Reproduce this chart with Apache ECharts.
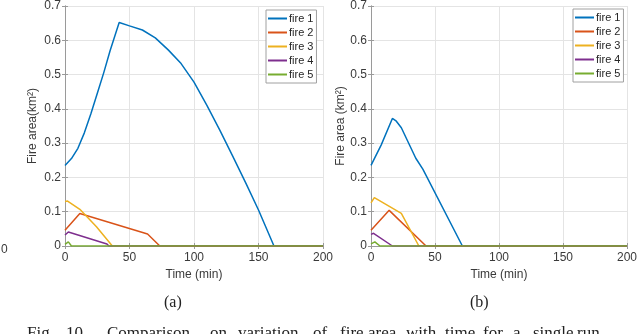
<!DOCTYPE html>
<html><head><meta charset="utf-8">
<script src="https://cdn.jsdelivr.net/npm/echarts@6/dist/echarts.min.js"></script>
<style>html,body{margin:0;padding:0;background:#fff}#c{width:640px;height:334px}</style>
</head><body><div id="c"></div>
<script>
var seriesNames = ['fire 1','fire 2','fire 3','fire 4','fire 5'];
var colors = ['#0072BD','#D95319','#EDB120','#7E2F8E','#77AC30'];
var xTicks = [0, 50, 100, 150, 200];
var yTicks = [0, 0.1, 0.2, 0.3, 0.4, 0.5, 0.6, 0.7];

// (a)
var a1_t = [0, 5, 10, 15, 20, 25, 30, 35, 42, 50, 60, 70, 80, 90, 100, 110, 120, 130, 140, 150, 162, 200];
var a1_v = [0.235, 0.255, 0.285, 0.33, 0.385, 0.445, 0.505, 0.57, 0.652, 0.642, 0.63, 0.607, 0.572, 0.532, 0.478, 0.41, 0.338, 0.262, 0.185, 0.105, 0, 0];
var a2_t = [0, 11.5, 64, 73.5, 200];
var a2_v = [0.046, 0.095, 0.035, 0, 0];
var a3_t = [0, 2, 11.5, 24.4, 36.7, 200];
var a3_v = [0.13, 0.131, 0.107, 0.056, 0, 0];
var a4_t = [0, 2.6, 32.5, 34, 200];
var a4_v = [0.032, 0.041, 0.006, 0, 0];
var a5_t = [0, 2.6, 5, 200];
var a5_v = [0.005, 0.012, 0, 0];

// (b)
var b1_t = [0, 8, 16.7, 19.8, 23.7, 35, 40.5, 71.4, 200];
var b1_v = [0.235, 0.295, 0.372, 0.364, 0.345, 0.256, 0.224, 0, 0];
var b2_t = [0, 14.2, 43, 200];
var b2_v = [0.046, 0.104, 0, 0];
var b3_t = [0, 2.6, 23.7, 37.4, 200];
var b3_v = [0.126, 0.141, 0.095, 0, 0];
var b4_t = [0, 2, 16.7, 200];
var b4_v = [0.034, 0.037, 0, 0];
var b5_t = [0, 3, 7, 200];
var b5_v = [0.006, 0.012, 0, 0];

function zip(t, v) { return t.map(function (x, i) { return [x, v[i]]; }); }
var aData = [zip(a1_t,a1_v), zip(a2_t,a2_v), zip(a3_t,a3_v), zip(a4_t,a4_v), zip(a5_t,a5_v)];
var bData = [zip(b1_t,b1_v), zip(b2_t,b2_v), zip(b3_t,b3_v), zip(b4_t,b4_v), zip(b5_t,b5_v)];

var boxColor = '#9a9a9a';
var labColor = '#3a3a3a';
var font = 'Liberation Sans';

function xAx(gi, main) {
  return {
    type: 'value', gridIndex: gi, min: xTicks[0], max: xTicks[xTicks.length-1], interval: 50,
    position: main ? 'bottom' : 'top',
    name: main ? 'Time (min)' : '', nameLocation: 'middle', nameGap: 23,
    nameTextStyle: { color: labColor, fontFamily: font, fontSize: 12 },
    axisLine: { show: true, lineStyle: { color: boxColor, width: 1 } },
    axisTick: { show: true, inside: true, length: 3, lineStyle: { color: boxColor } },
    axisLabel: { show: main, color: labColor, fontFamily: font, fontSize: 12, margin: 6 },
    splitLine: { show: main, lineStyle: { color: '#e4e4e4', width: 1 } }
  };
}
function yAx(gi, main, name, gap) {
  return {
    type: 'value', gridIndex: gi, min: 0, max: 0.7, interval: 0.1,
    position: main ? 'left' : 'right',
    name: main ? name : '', nameLocation: 'middle', nameGap: gap,
    nameTextStyle: { color: labColor, fontFamily: font, fontSize: 12 },
    axisLine: { show: true, lineStyle: { color: boxColor, width: 1 } },
    axisTick: { show: true, inside: true, length: 3, lineStyle: { color: boxColor } },
    axisLabel: { show: main, color: labColor, fontFamily: font, fontSize: 12, margin: 4,
      formatter: function (v) { return (Math.round(v*10)/10).toString(); } },
    splitLine: { show: main, lineStyle: { color: '#e4e4e4', width: 1 } }
  };
}

var series = [];
[aData, bData].forEach(function (dset, gi) {
  dset.forEach(function (d, i) {
    series.push({
      name: seriesNames[i], type: 'line', xAxisIndex: gi*2, yAxisIndex: gi*2,
      data: d, showSymbol: false, symbol: 'none', smooth: false,
      lineStyle: { color: colors[i], width: 1.5 }, itemStyle: { color: colors[i] },
      animation: false
    });
  });
});

function legend(left, top) {
  return {
    orient: 'vertical', left: left, top: top, data: seriesNames,
    icon: 'rect', itemWidth: 19, itemHeight: 2, itemGap: 3,
    padding: [3, 3, 3, 2], borderColor: '#a0a0a0', borderWidth: 1, borderRadius: 0,
    backgroundColor: '#fff',
    textStyle: { color: '#262626', fontFamily: font, fontSize: 11, padding: [0,0,0,-3] },
    selectedMode: false
  };
}

var serif = 'Liberation Serif';
var capWords = [['Fig.',27],['10.',66],['Comparison',107],['on',210],['variation',238],['of',313],
  ['fire',340],['area',368],['with',406],['time',445],['for',483],['a',513],['single',533],['run',577]];
var graphics = capWords.map(function (w) {
  return { type: 'text', left: w[1], top: 325, style: { text: w[0], font: '17px "' + serif + '"', fill: '#222' } };
});
graphics.push({ type: 'text', left: 164, top: 295, style: { text: '(a)', font: '16px "' + serif + '"', fill: '#222' } });
graphics.push({ type: 'text', left: 470, top: 295, style: { text: '(b)', font: '16px "' + serif + '"', fill: '#222' } });
graphics.push({ type: 'text', left: 1, top: 244, style: { text: '0', font: '12px "' + font + '"', fill: labColor } });

var chart = echarts.init(document.getElementById('c'), null, { renderer: 'canvas' });
chart.setOption({
  animation: false,
  backgroundColor: '#fff',
  grid: [
    { left: 65, top: 6, width: 258, height: 240, show: false },
    { left: 371, top: 6, width: 259, height: 240, show: false }
  ],
  xAxis: [xAx(0, true), xAx(0, false), xAx(1, true), xAx(1, false)],
  yAxis: [yAx(0, true, 'Fire area(km²)', 26), yAx(0, false), yAx(1, true, 'Fire area (km²)', 22), yAx(1, false)],
  legend: [legend(266, 10), legend(573, 9)],
  series: series,
  graphic: graphics
});
</script></body></html>
